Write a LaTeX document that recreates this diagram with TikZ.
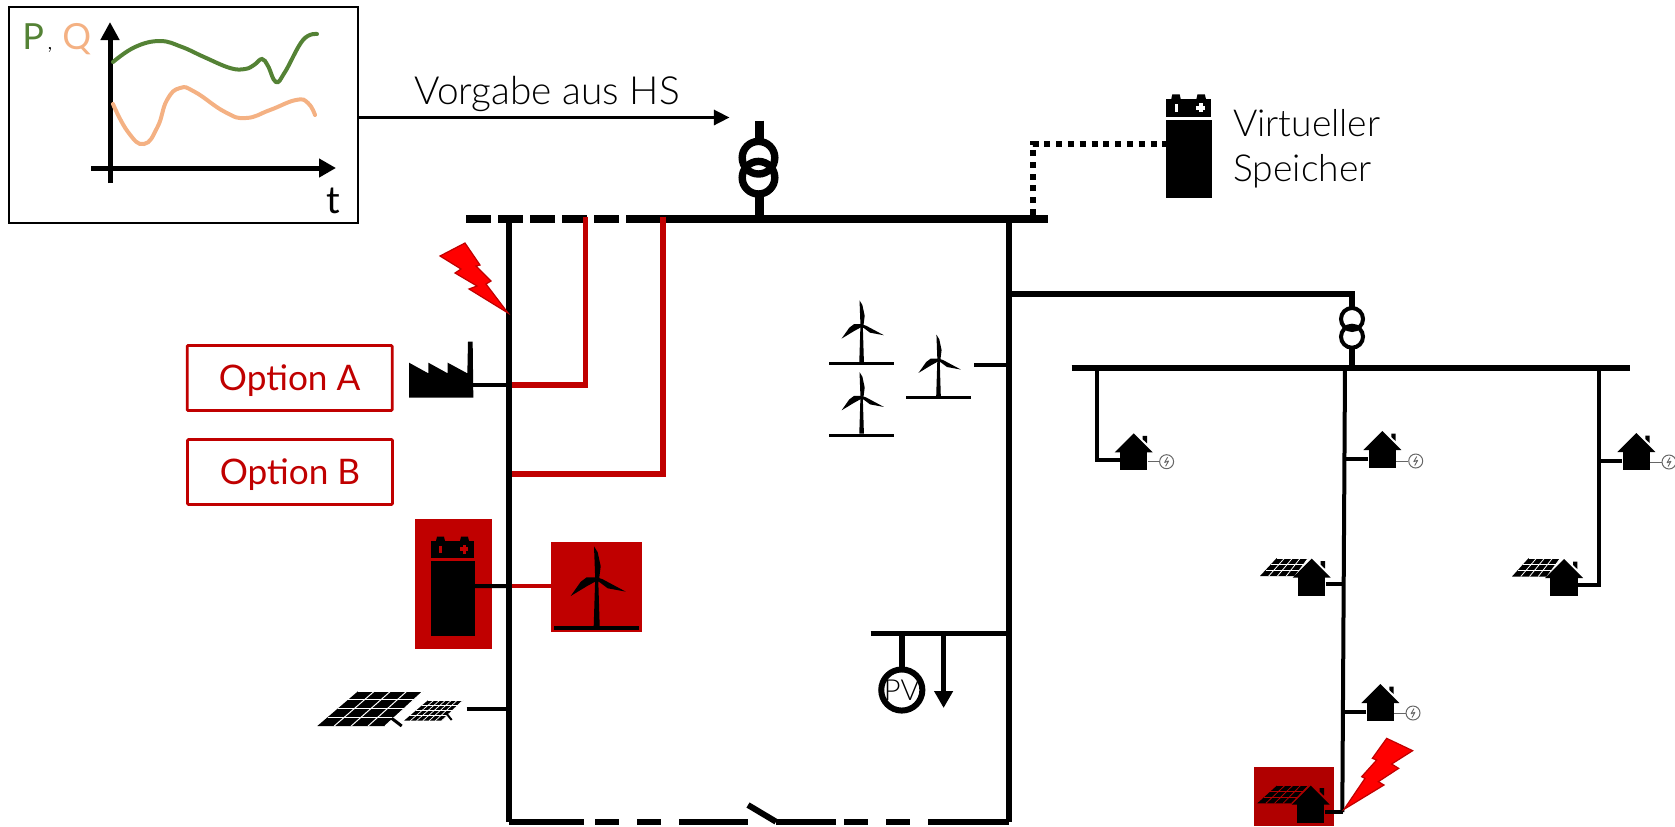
\documentclass[tikz,border=0pt]{standalone}
\usepackage{fontspec}
\setmainfont{Lato}
\newfontfamily\lightf{Lato Light}
\usetikzlibrary{arrows.meta,calc}
\definecolor{optred}{HTML}{C00000}
\definecolor{darkred}{HTML}{B00000}
\definecolor{pgreen}{HTML}{548235}
\definecolor{qorange}{HTML}{F4B183}
\definecolor{metergray}{HTML}{666666}
\tikzset{
  optbox/.style={draw=optred,line width=1.4pt,rounded corners=0.5pt,minimum width=102.5pt,minimum height=32.5pt,inner sep=0pt,text=optred,font=\fontsize{17.6}{20}\selectfont},
  feeder/.style={line width=2pt,black},
  busbar/.style={line width=3.9pt,black},
  mainline/.style={line width=3pt,black},
  redline/.style={line width=2.6pt,optred},
  labeltext/.style={anchor=base west,inner sep=0pt,font=\lightf\fontsize{18.6}{20}\selectfont},
  bolt/.style={fill=red,draw=optred,line width=0.6pt,line join=miter},
  housebody/.style={fill=black,inner sep=0pt,minimum width=13.7pt,minimum height=9.3pt},
  meter/.style={circle,draw=metergray,fill=white,line width=0.5pt,inner sep=0pt,minimum size=7pt},
  meterwire/.style={draw=metergray,line width=0.5pt},
  hvring/.style={circle,draw=black,line width=3.7pt,minimum size=16.3pt,inner sep=0pt,outer sep=0pt},
  lvring/.style={circle,draw=black,line width=2pt,minimum size=11pt,inner sep=0pt,outer sep=0pt},
}
% house: #1 name, #2,#3 roof apex
\newcommand{\houseicon}[3]{%
  \begin{scope}[shift={(#2,#3)}]
    \fill[black] (9,2.5) -- (13.3,2.5) -- (13.3,10) -- (9,6) -- cycle;
    \fill[black] (0,0) -- (19,19) -- (-19,19) -- cycle;
    \node[housebody] (#1) at (0,27.7) {};
  \end{scope}}
% meter attached to a house
\newcommand{\metericon}[3]{%
  \node[meter] (#1m) at (#2,#3) {};
  \draw[metergray,line width=0.45pt,line join=bevel] ($(#1m)+(1,-4.5)$) -- ($(#1m)+(-2,0.8)$) -- ($(#1m)+(2,-0.8)$) -- ($(#1m)+(-1,4.5)$);
  \draw[meterwire] (#1.east |- #1m) -- (#1m.west);}
% solar panel: corners a b c d, #5 cols, #6 rows, #7 grid colour, #8 grid width
\newcommand{\solarpanel}[8]{%
  \coordinate (pa) at (#1); \coordinate (pb) at (#2); \coordinate (pc) at (#3); \coordinate (pd) at (#4);
  \fill[black] (pa) -- (pb) -- (pc) -- (pd) -- cycle;
  \foreach \i in {1,...,#5}{\draw[#7,line width=#8] ($(pa)!{\i/#5}!(pb)$) -- ($(pd)!{\i/#5}!(pc)$);}
  \foreach \j in {1,...,#6}{\draw[#7,line width=#8] ($(pa)!{\j/#6}!(pd)$) -- ($(pb)!{\j/#6}!(pc)$);}}
% wind turbine: #1 name, #2,#3 hub, #4 scale
\newcommand{\turbineicon}[4]{%
  \begin{scope}[shift={(#2,#3)},scale=#4]
    \fill[black] (-1.5,0) -- (-2.7,-32) -- (1,-26) -- (4,-12) -- (2.5,0) -- cycle;
    \fill[black] (0,-1) -- (-10,-1) -- (-16,3.5) -- (-26,17.7) -- (-10,8) -- (0,2.5) -- cycle;
    \fill[black] (0,-1) -- (6,1) -- (29,13.3) -- (11,10) -- (3,4) -- (0,2.5) -- cycle;
    \fill[black] (-1.5,0) -- (1.5,0) -- (3,48) -- (-3,48) -- cycle;
    \fill[black] (-42.5,47.8) rectangle (42.5,52.1);
    \coordinate (#1) at (0,50);
  \end{scope}}
% battery: #1 name, #2,#3 top-left, #4 scale, #5 symbol colour
\newcommand{\batteryicon}[5]{%
  \begin{scope}[shift={(#2,#3)},scale=#4]
    \fill[black] (0,4.3) rectangle (43.3,21.3);
    \fill[black] (5,4.3) -- (6,0) -- (13,0) -- (14,4.3) -- cycle;
    \fill[black] (29,4.3) -- (30,0) -- (37,0) -- (38,4.3) -- cycle;
    \fill[#5] (8.3,9.3) rectangle (11,16.7);
    \fill[#5] (29,10.7) rectangle (37.3,14.7);
    \fill[#5] (31.5,8.7) rectangle (34.8,17.3);
    \fill[black] (0,24.3) rectangle (44,99);
    \coordinate (#1w) at (0,49.3);
    \coordinate (#1e) at (44,49.3);
  \end{scope}}
\begin{document}
\begin{tikzpicture}[x=0.5pt,y=-0.5pt]
\useasboundingbox (0,0) rectangle (1675,826);

% --- set-point chart
\node[draw=black,line width=1.3pt,inner sep=0pt,minimum width=174.5pt,minimum height=108pt] (chart) at (183.5,115) {};
\draw[line width=2.5pt,-{Triangle[length=9pt,width=9pt]}] (110,183) -- (110,22);
\draw[line width=2.5pt,-{Triangle[length=8.5pt,width=9pt]}] (91,168) -- (336,168);
\draw[pgreen,line width=2pt,line cap=round] plot[smooth,tension=0.7] coordinates {(113,62) (135,47) (160,41) (182,47) (204,57) (230,68) (245,69) (254,65) (262,59) (268,66) (276,82) (285,72) (303,40) (317,34)};
\draw[qorange,line width=2pt,line cap=round] plot[smooth,tension=0.8] coordinates {(113,104) (128,132) (144,144) (157.5,127) (167,100) (180,88) (195,92) (225,112) (246,118) (270,110) (296,100) (308,103) (315,115)};
\node[anchor=base west,inner sep=0pt,text=pgreen,font=\fontsize{18}{20}\selectfont] (lblp) at (22,49) {P};
\node[anchor=base west,inner sep=0pt,font=\lightf\fontsize{12}{14}\selectfont] (lblc) at (47,49) {,};
\node[anchor=base west,inner sep=0pt,text=qorange,font=\fontsize{18}{20}\selectfont] (lblq) at (62,49) {Q};
\node[anchor=base west,inner sep=0pt,font=\fontsize{19}{20}\selectfont] (lblt) at (326,213) {t};
\coordinate (hvtarget) at (729.5,117.5);
\draw[line width=1.5pt,-{Triangle[length=7.8pt,width=7.5pt]}] (chart.east |- hvtarget) -- (hvtarget);
\node[labeltext,font=\lightf\fontsize{19.4}{20}\selectfont] (vorgabe) at (414,104) {Vorgabe aus HS};

% --- main busbar and transformer
\coordinate (busdashl) at (466,218.7);
\coordinate (busdashr) at (635,218.7);
\coordinate (busr) at (1048,218.7);
\draw[busbar,dash pattern=on 12.25pt off 3.75pt] (busdashl) -- (busdashr);
\draw[busbar] (busdashr) -- (busr);
\coordinate (hvtop) at (759,120.7);
\coordinate (hvbus) at (759,218.7);
\node[hvring] (tra) at (758.5,157.7) {};
\node[hvring] (trb) at (758.5,177.7) {};
\draw[line width=4.5pt] (hvtop) -- (tra.north -| hvtop);
\draw[line width=4.5pt] (trb.south -| hvbus) -- (hvbus);

% --- left and right feeders of the ring
\coordinate (ringtl) at (508.6,218.7);
\coordinate (ringbl) at (508.6,821.7);
\coordinate (ringtr) at (1008.6,218.7);
\coordinate (ringbr) at (1008.6,821.7);
\draw[mainline] (ringtl) -- (ringbl);
\draw[mainline] (ringtr) -- (ringbr);
\coordinate (sw1) at (748,805);
\coordinate (sw2) at (776,821.7);
\coordinate (bd1) at (583.6,821.7); \coordinate (bd2) at (595,821.7); \coordinate (bd3) at (619,821.7);
\coordinate (bd4) at (637,821.7); \coordinate (bd5) at (661,821.7); \coordinate (bd6) at (679,821.7);
\coordinate (bd7) at (748,821.7); \coordinate (bd8) at (836,821.7); \coordinate (bd9) at (844,821.7);
\coordinate (bd10) at (868,821.7); \coordinate (bd11) at (886,821.7); \coordinate (bd12) at (910,821.7);
\coordinate (bd13) at (928,821.7);
\draw[mainline] (ringbl) -- (bd1);
\draw[mainline] (bd2) -- (bd3);
\draw[mainline] (bd4) -- (bd5);
\draw[mainline] (bd6) -- (bd7);
\draw[mainline] (sw2) -- (bd8);
\draw[mainline] (bd9) -- (bd10);
\draw[mainline] (bd11) -- (bd12);
\draw[mainline] (bd13) -- (ringbr);
\draw[mainline] (sw1) -- (sw2);

% --- options in red
\coordinate (rau) at (585.3,216.7);
\coordinate (rab) at (585.3,385);
\coordinate (raw) at (511.6,385);
\coordinate (rbu) at (663,216.7);
\coordinate (rbb) at (663,474);
\coordinate (rbw) at (511.6,474);
\draw[redline,line join=miter] (rau) -- (rab) -- (raw);
\draw[redline,line join=miter] (rbu) -- (rbb) -- (rbw);
\node[optbox] (opta) at (289.7,378) {\raisebox{-6.35pt}[0pt][0pt]{Option A}};
\node[optbox] (optb) at (290,472) {\raisebox{-6.2pt}[0pt][0pt]{Option B}};

% --- fault on the left feeder
\fill[bolt] (440,256) -- (465,243) -- (480,265) -- (476,266) -- (491,281) -- (486,284) -- (508,313) -- (469,289) -- (477,286) -- (455,273) -- (461,269) -- cycle;

% --- factory
\begin{scope}[shift={(300,330)},scale=0.33333]
  \fill[black] (327,98) -- (385,130) -- (385,98) -- (443,130) -- (443,98) -- (502,130) -- (504,35) -- (518,35) -- (520,203) -- (327,203) -- cycle;
  \coordinate (factory) at (520,165);
  \coordinate (factbus) at (617,165);
\end{scope}
\draw[line width=2.2pt] (factory) -- (factbus);

% --- red battery and red turbine
\fill[optred] (415,519) rectangle (491.7,649.3);
\fill[optred] (551,542) rectangle (642,631.7);
\batteryicon{rbat}{431}{536.7}{1}{optred}
\turbineicon{rturb}{596.7}{578.3}{1}
\coordinate (rwl) at (508.6,586);
\coordinate (rwr) at (551,586);
\coordinate (rwm) at (511.6,586);
\draw[line width=2pt] (rbate) -- (rwl);
\draw[line width=2pt,optred] (rwm) -- (rwr);

% --- PV farm
\solarpanel{317.3,726}{385,726}{423.3,691}{358.3,691}{4}{4}{white}{0.5pt}
\solarpanel{404,720.7}{441.7,720.7}{463.3,700}{428.3,700}{6}{4}{white}{0.35pt}
\draw[line width=1.5pt] (391.7,718.3) -- (401.7,726);
\draw[line width=1pt] (446,713) -- (451.7,720);
\coordinate (pvfarm) at (466.7,708.7);
\coordinate (pvfarmbus) at (506,708.7);
\draw[line width=2pt] (pvfarm) -- (pvfarmbus);

% --- wind farm
\turbineicon{t1}{861.6}{325}{0.77}
\turbineicon{t2}{861.6}{396.7}{0.77}
\turbineicon{t3}{938.5}{359.3}{0.77}
\coordinate (windstub) at (974,365);
\coordinate (windbus) at (1006,365);
\draw[line width=2pt] (windstub) -- (windbus);

% --- PV and load on the sub-busbar
\coordinate (subl) at (870.7,633.3);
\coordinate (subr) at (1008,633.3);
\coordinate (pvtap) at (901.8,633.3);
\coordinate (ldtap) at (943.6,633.3);
\coordinate (ldend) at (943.6,708);
\draw[line width=2.8pt] (subl) -- (subr);
\node[circle,draw=black,line width=3pt,minimum size=20pt,inner sep=0pt,outer sep=0pt,font=\lightf\fontsize{14.5}{16}\selectfont] (pvgen) at (901.8,690) {PV};
\draw[line width=2.8pt] (pvtap) -- (pvgen.north);
\draw[line width=2.2pt,-{Triangle[length=8.5pt,width=9pt]}] (ldtap) -- (ldend);

% --- virtual storage
\batteryicon{vbat}{1166}{94.3}{1.05}{white}
\coordinate (vcorner) at (1032.7,144);
\coordinate (vbus) at (1032.7,215);
\draw[line width=2.9pt,dash pattern=on 3pt off 2.9pt] (vbus) -- (vcorner) -- (vbatw |- vcorner);
\node[labeltext] (virt) at (1232.6,136.7) {Virtueller};
\node[labeltext] (spei) at (1233,181.7) {Speicher};

% --- low-voltage grid
\coordinate (mvtap) at (1008.6,294);
\coordinate (mvcorn) at (1352,294);
\coordinate (lvtap) at (1352,367.7);
\node[lvring] (trc) at (1352,319) {};
\node[lvring] (trd) at (1352,336.7) {};
\draw[line width=2.8pt,line join=miter] (mvtap) -- (mvcorn) -- (trc.north);
\draw[line width=2.8pt] (trd.south) -- (lvtap);
\coordinate (lvl) at (1071.7,367.7);
\coordinate (lvr) at (1630,367.7);
\draw[line width=3pt] (lvl) -- (lvr);

\coordinate (fa) at (1096.6,367.7);
\coordinate (fac) at (1096.6,460);
\coordinate (fb) at (1345,367.7);
\coordinate (fbe) at (1342.3,812);
\coordinate (fc) at (1599.3,367.7);
\coordinate (fce) at (1599.3,585);
% houses with a meter
\houseicon{ha}{1133.7}{433.3}\metericon{ha}{1166.6}{461.7}
\houseicon{hb}{1382.3}{431}\metericon{hb}{1415.7}{461}
\houseicon{hc}{1380.3}{684}\metericon{hc}{1413}{713}
\houseicon{hd}{1636.3}{433}\metericon{hd}{1669}{462}
\draw[feeder,line join=miter] (fa) -- (fac) -- (fac -| ha.west);
\draw[feeder] (fb) -- (fbe);
\draw[line width=2.2pt] (hb.west) -- (hb.west -| fb);
\draw[line width=2.2pt] (hc.west) -- (hc.west -| fbe);
\draw[line width=2.2pt] (hd.west) -- (hd.west -| fc);

% houses with solar panels
\solarpanel{1260,576}{1295,576}{1308.3,558}{1276.7,558}{4}{3}{white}{0.4pt}
\houseicon{he}{1311.7}{558.7}
\coordinate (hetap) at (1342.8,584);
\draw[line width=1.7pt] (he.east |- hetap) -- (hetap);
\solarpanel{1512,576.5}{1547,576.5}{1560.5,558}{1528.7,558}{4}{3}{white}{0.4pt}
\houseicon{hf}{1564}{559}
\draw[feeder,line join=miter] (fc) -- (fce) -- (fce -| hf.east);

% house in fault region
\fill[darkred] (1254,767) rectangle (1334,825.7);
\solarpanel{1257.3,803.3}{1291.7,803.3}{1308.3,785.7}{1276.7,785.7}{4}{3}{darkred}{0.4pt}
\houseicon{hg}{1310.7}{785.7}
\coordinate (hgtap) at (1342.6,812);
\draw[line width=2pt] (hg.east |- hgtap) -- (hgtap);

% --- fault in the LV grid
\begin{scope}[shift={(1240,400)},scale=0.33333]
  \fill[bolt] (440,1015) -- (518,1052) -- (455,1092) -- (476,1105) -- (415,1145) -- (432,1155) -- (312,1228) -- (375,1135) -- (365,1130) -- (410,1080) -- (397,1075) -- cycle;
\end{scope}
\end{tikzpicture}
\end{document}
